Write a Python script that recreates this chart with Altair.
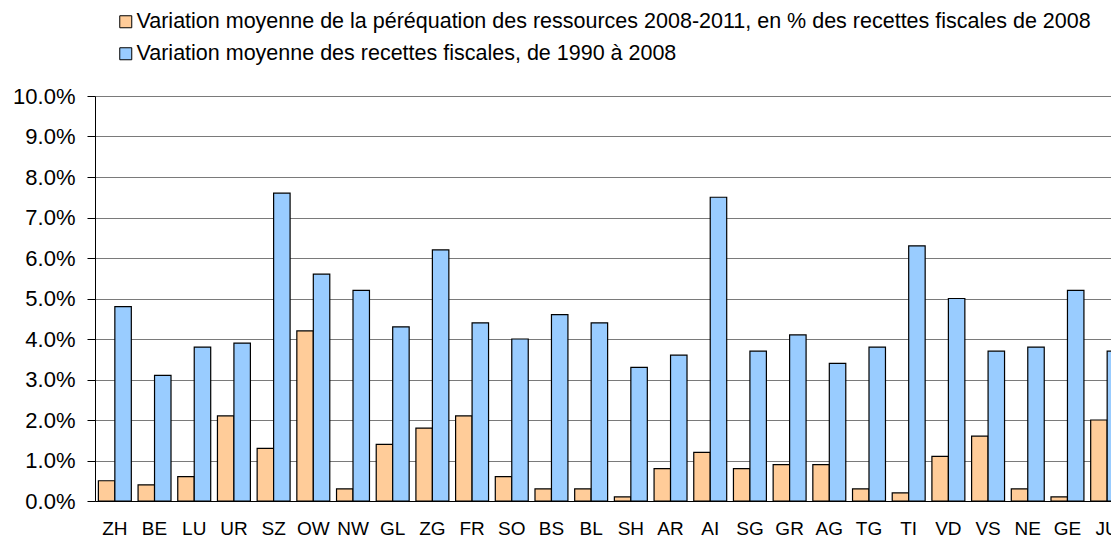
import altair as alt
import pandas as pd

cantons = ["ZH", "BE", "LU", "UR", "SZ", "OW", "NW", "GL", "ZG", "FR", "SO", "BS", "BL",
           "SH", "AR", "AI", "SG", "GR", "AG", "TG", "TI", "VD", "VS", "NE", "GE", "JU"]
perequation = [0.5, 0.4, 0.6, 2.1, 1.3, 4.2, 0.3, 1.4, 1.8, 2.1, 0.6, 0.3, 0.3,
               0.1, 0.8, 1.2, 0.8, 0.9, 0.9, 0.3, 0.2, 1.1, 1.6, 0.3, 0.1, 2.0]
recettes = [4.8, 3.1, 3.8, 3.9, 7.6, 5.6, 5.2, 4.3, 6.2, 4.4, 4.0, 4.6, 4.4,
            3.3, 3.6, 7.5, 3.7, 4.1, 3.4, 3.8, 6.3, 5.0, 3.7, 3.8, 5.2, 3.7]
series = ["Variation moyenne de la péréquation des ressources 2008-2011, en % des recettes fiscales de 2008",
          "Variation moyenne des recettes fiscales, de 1990 à 2008"]
colors = ["#FFCC99", "#99CCFF"]
y_ticks = [0, 1, 2, 3, 4, 5, 6, 7, 8, 9, 10]

rows = []
for i, c in enumerate(cantons):
    rows.append({"canton": c, "serie": series[0], "value": perequation[i]})
    rows.append({"canton": c, "serie": series[1], "value": recettes[i]})
df = pd.DataFrame(rows)

FONT = "Liberation Sans"

chart = alt.Chart(df).mark_bar(stroke="black", strokeWidth=1.2).encode(
    x=alt.X("canton:N", sort=cantons,
            scale=alt.Scale(range=[0, 1032], paddingInner=0.17, paddingOuter=0.085),
            axis=alt.Axis(title=None, labelAngle=0, ticks=False, tickSize=0, grid=False,
                          labelFontSize=19, labelFont=FONT, labelColor="black",
                          labelPadding=18, domainColor="black", domainWidth=1)),
    xOffset=alt.XOffset("serie:N", sort=series,
                        scale=alt.Scale(paddingInner=0, paddingOuter=0)),
    y=alt.Y("value:Q", scale=alt.Scale(domain=[0, 10], nice=False),
            axis=alt.Axis(title=None, values=y_ticks,
                          labelExpr="format(datum.value, '.1f') + '%'",
                          labelFontSize=22, labelFont=FONT, labelColor="black",
                          labelPadding=12, tickSize=8, tickColor="black",
                          domainColor="black", gridColor="#7a7a7a", gridWidth=1)),
    color=alt.Color("serie:N", sort=series,
                    scale=alt.Scale(domain=series, range=colors),
                    legend=alt.Legend(title=None, orient="none", legendX=20, legendY=-85,
                                      direction="vertical", padding=0,
                                      symbolType="square", symbolSize=144,
                                      symbolStrokeColor="black", symbolStrokeWidth=1,
                                      labelFontSize=21.5, labelFont=FONT, labelColor="black",
                                      labelLimit=0, labelOffset=0, rowPadding=9)),
).properties(
    width=1016, height=405,
    autosize=alt.AutoSizeParams(type="none"),
    padding={"left": 87, "top": 88, "right": 0, "bottom": 40},
    background="white",
).configure_view(stroke=None)

chart.save("out.html", embed_options={"renderer": "svg", "actions": False})
